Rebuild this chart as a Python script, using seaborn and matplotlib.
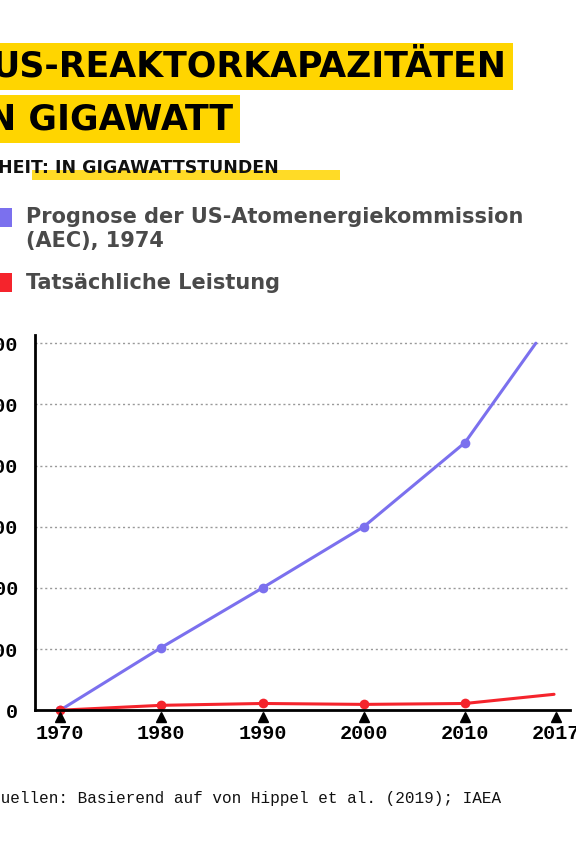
import matplotlib
matplotlib.use("Agg")
import matplotlib.pyplot as plt
import seaborn as sns
import pandas as pd

years_aec = [1970, 1980, 1990, 2000, 2010, 2017]
aec = [0, 205, 400, 600, 875, 1200]
years_act = [1970, 1980, 1990, 2000, 2010, 2018.8]
actual = [0, 16, 22, 19, 22, 52]
xticks = [1970, 1980, 1990, 2000, 2010, 2019]
xticklabels = ["1970", "1980", "1990", "2000", "2010", "2017"]
yticks = [0, 200, 400, 600, 800, 1000, 1200]

BLUE = "#7b70ee"
RED = "#f5242c"
YEL = "#ffd500"

sns.set_theme(style="white")
plt.rcParams['font.family'] = ['DejaVu Sans']
fig = plt.figure(figsize=(5.76, 8.64), dpi=100)
ax = fig.add_axes([0.061, 0.178, 0.929, 0.434])

df1 = pd.DataFrame({"x": years_aec, "y": aec})
df2 = pd.DataFrame({"x": years_act, "y": actual})
sns.lineplot(data=df1, x="x", y="y", ax=ax, color=BLUE, lw=2.2, marker="o",
             markersize=7, markeredgewidth=0, markevery=[0, 1, 2, 3, 4])
sns.lineplot(data=df2, x="x", y="y", ax=ax, color=RED, lw=2.2, marker="o",
             markersize=7, markeredgewidth=0, markevery=[0, 1, 2, 3, 4], clip_on=False)
ax.set_xlim(1967.53, 2020.4)
ax.set_ylim(0, 1226)
ax.set_yticks(yticks)
ax.set_xticks(xticks)
ax.set_yticklabels([str(v) for v in yticks])
ax.set_xticklabels(xticklabels)
mono = {"family": "Liberation Mono", "weight": "bold", "size": 14.5}
for l in ax.get_xticklabels() + ax.get_yticklabels():
    l.set_fontproperties(matplotlib.font_manager.FontProperties(**mono))
    l.set_color("black")
ax.tick_params(axis="x", length=0, pad=10)
ax.tick_params(axis="y", length=0, pad=12)
ax.set_xlabel(""); ax.set_ylabel("")
for y in yticks[1:]:
    ax.axhline(y, color="#999999", lw=1, ls=(0, (1.5, 2)), zorder=0)
for s in ["top", "right"]:
    ax.spines[s].set_visible(False)
ax.spines["left"].set_color("black"); ax.spines["left"].set_linewidth(2)
ax.spines["bottom"].set_color("black"); ax.spines["bottom"].set_linewidth(2)
ax.plot(xticks, [0]*len(xticks), ls="none", marker="^", color="black",
        markersize=7, clip_on=False)
ax.lines[-1].set_transform(matplotlib.transforms.offset_copy(ax.transData, fig=fig, y=-5, units="points"))

tfont = dict(family="DejaVu Sans", weight="bold", size=25, color="black")
fig.text(-0.015, 0.923, "US-REAKTORKAPAZITÄTEN", va="center", ha="left",
         bbox=dict(facecolor=YEL, edgecolor="none", pad=5), **tfont)
fig.text(-0.045, 0.862, "IN GIGAWATT", va="center", ha="left",
         bbox=dict(facecolor=YEL, edgecolor="none", pad=5), **tfont)
fig.patches.append(matplotlib.patches.Rectangle((0.055, 0.792), 0.535, 0.011,
                   transform=fig.transFigure, facecolor=YEL, edgecolor="none", alpha=0.85))
fig.text(-0.06, 0.805, "EINHEIT: IN GIGAWATTSTUNDEN", va="center", ha="left",
         family="DejaVu Sans", weight="bold", size=12.5, color="#111111")

lfont = dict(family="DejaVu Sans", weight="bold", size=15, color="#4a4a4a")
fig.patches.append(matplotlib.patches.Rectangle((-0.01, 0.737), 0.03, 0.022,
                   transform=fig.transFigure, facecolor=BLUE, edgecolor="none"))
fig.text(0.045, 0.76, "Prognose der US-Atomenergiekommission\n(AEC), 1974", va="top",
         ha="left", linespacing=1.25, **lfont)
fig.patches.append(matplotlib.patches.Rectangle((-0.01, 0.662), 0.03, 0.022,
                   transform=fig.transFigure, facecolor=RED, edgecolor="none"))
fig.text(0.045, 0.673, "Tatsächliche Leistung", va="center", ha="left", **lfont)

fig.text(-0.015, 0.076, "Quellen: Basierend auf von Hippel et al. (2019); IAEA",
         va="center", ha="left", family="Liberation Mono", size=11.5, color="#111111")
fig.savefig("out.png", dpi=100)
